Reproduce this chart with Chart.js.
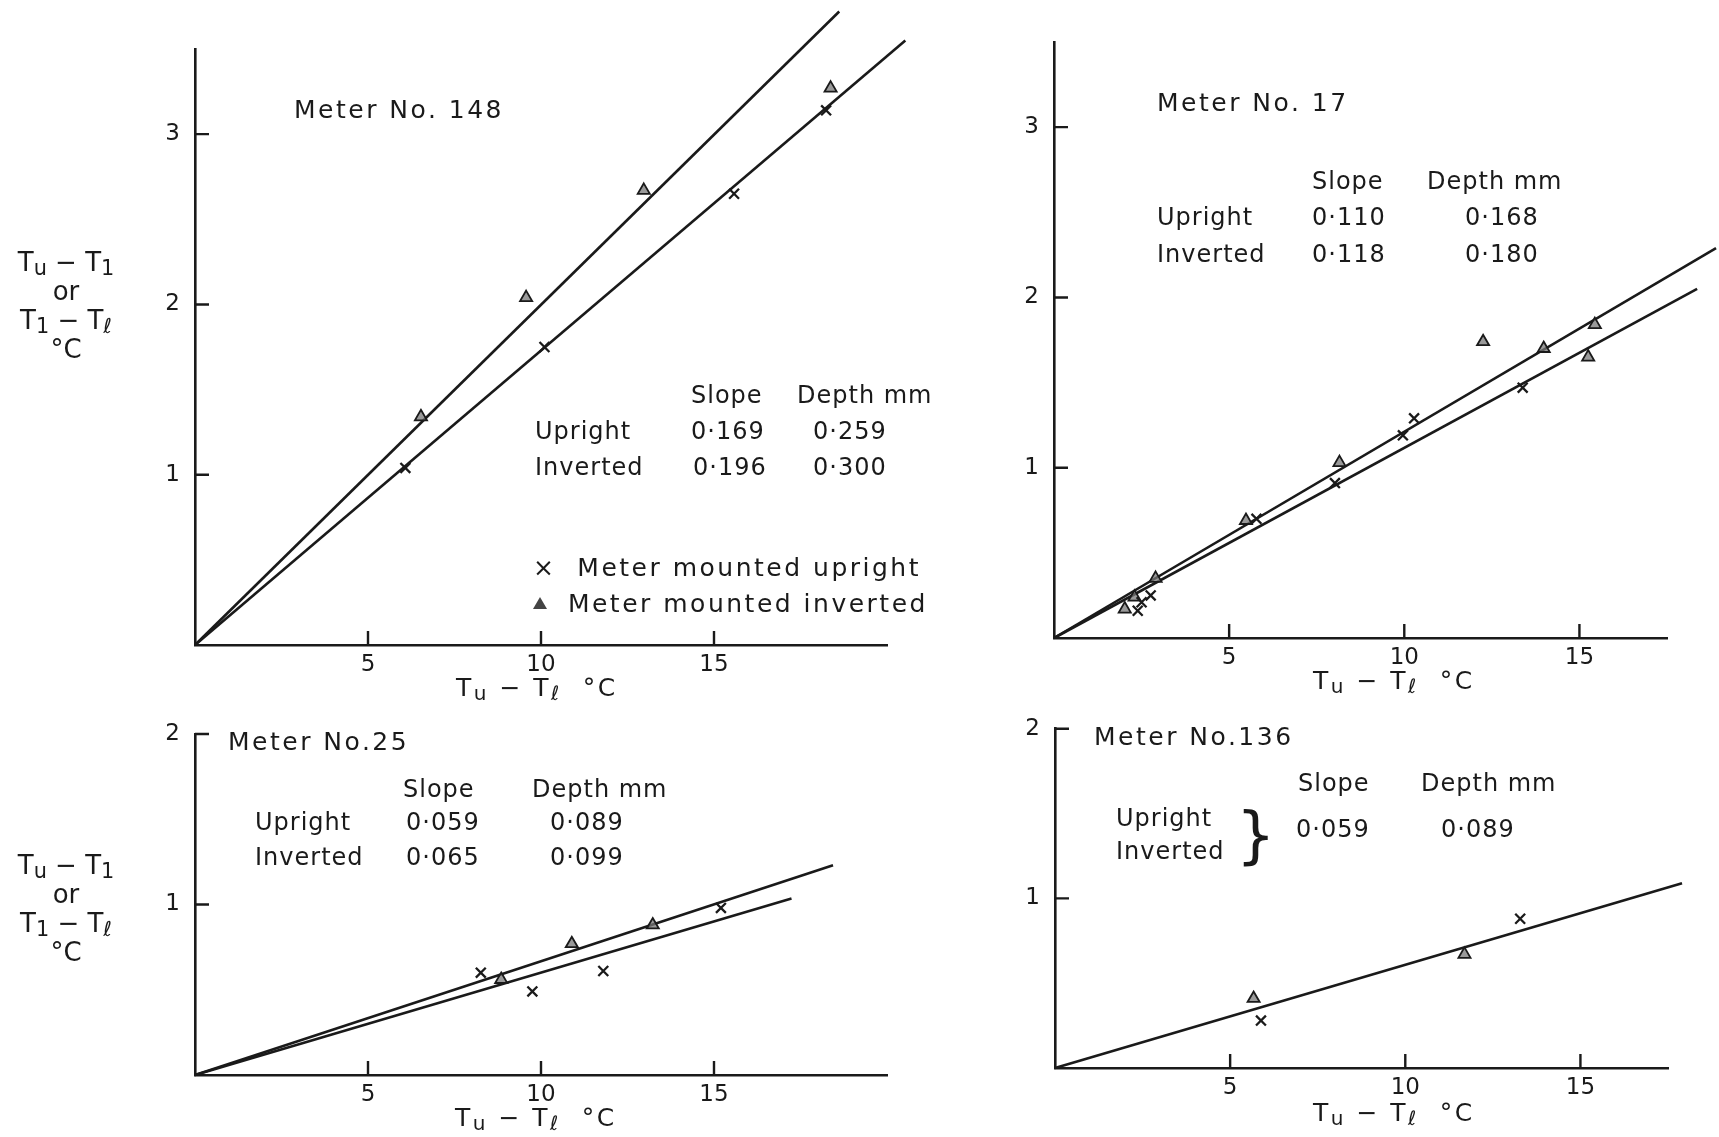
<!DOCTYPE html>
<html>
<head>
<meta charset="utf-8">
<script src="https://cdn.jsdelivr.net/npm/chart.js@4.4.1/dist/chart.umd.min.js"></script>
<style>
html, body { margin: 0; padding: 0; background: #fff; }
body { width: 1719px; height: 1137px; position: relative; overflow: hidden;
       font-family: "DejaVu Sans", sans-serif; color: #1a1a1a; }
canvas { position: absolute; }
.t { position: absolute; font-size: 24px; line-height: 26px; white-space: nowrap;
     transform: translateY(-50%); letter-spacing: 1px; z-index: 2; }
.big { font-size: 25px; letter-spacing: 2.5px; }
.yt { position: absolute; width: 130px; text-align: center; font-size: 26px; line-height: 29px; z-index: 2; }
sub { font-size: 0.8em; vertical-align: -0.2em; line-height: 0; }
.tri { display: inline-block; width: 0; height: 0; border-left: 7px solid transparent;
       border-right: 7px solid transparent; border-bottom: 12px solid #444; vertical-align: 3px; }
</style>
</head>
<body>

<canvas id="m148" width="835" height="720" style="left:95px;top:0px"></canvas>
<canvas id="m17" width="765" height="720" style="left:954px;top:0px"></canvas>
<canvas id="m25" width="835" height="437" style="left:95px;top:700px"></canvas>
<canvas id="m136" width="764" height="437" style="left:955px;top:700px"></canvas>

<!-- y titles -->
<div class="yt" style="left:1px;top:248px">T<sub>u</sub> − T<sub>1</sub><br>or<br>T<sub>1</sub> − T<sub>ℓ</sub><br>°C</div>
<div class="yt" style="left:1px;top:851px">T<sub>u</sub> − T<sub>1</sub><br>or<br>T<sub>1</sub> − T<sub>ℓ</sub><br>°C</div>

<!-- Meter No. 148 -->
<div class="t big" style="left:294px;top:110px">Meter No. 148</div>
<div class="t" style="left:691px;top:395px">Slope</div>
<div class="t" style="left:797px;top:395px">Depth mm</div>
<div class="t" style="left:535px;top:431px">Upright</div>
<div class="t" style="left:691px;top:431px">0·169</div>
<div class="t" style="left:813px;top:431px">0·259</div>
<div class="t" style="left:535px;top:467px">Inverted</div>
<div class="t" style="left:693px;top:467px">0·196</div>
<div class="t" style="left:813px;top:467px">0·300</div>
<div class="t big" style="left:533px;top:568px">×&nbsp; Meter mounted upright</div>
<div class="t big" style="left:533px;top:604px"><span class="tri"></span>&nbsp; Meter mounted inverted</div>
<div class="t big" style="left:456px;top:688px">T<sub>u</sub> − T<sub>ℓ</sub>&nbsp; °C</div>

<!-- Meter No. 17 -->
<div class="t big" style="left:1157px;top:103px">Meter No. 17</div>
<div class="t" style="left:1312px;top:181px">Slope</div>
<div class="t" style="left:1427px;top:181px">Depth mm</div>
<div class="t" style="left:1157px;top:217px">Upright</div>
<div class="t" style="left:1312px;top:217px">0·110</div>
<div class="t" style="left:1465px;top:217px">0·168</div>
<div class="t" style="left:1157px;top:254px">Inverted</div>
<div class="t" style="left:1312px;top:254px">0·118</div>
<div class="t" style="left:1465px;top:254px">0·180</div>
<div class="t big" style="left:1313px;top:681px">T<sub>u</sub> − T<sub>ℓ</sub>&nbsp; °C</div>

<!-- Meter No. 25 -->
<div class="t big" style="left:228px;top:742px">Meter No.25</div>
<div class="t" style="left:403px;top:789px">Slope</div>
<div class="t" style="left:532px;top:789px">Depth mm</div>
<div class="t" style="left:255px;top:822px">Upright</div>
<div class="t" style="left:406px;top:822px">0·059</div>
<div class="t" style="left:550px;top:822px">0·089</div>
<div class="t" style="left:255px;top:857px">Inverted</div>
<div class="t" style="left:406px;top:857px">0·065</div>
<div class="t" style="left:550px;top:857px">0·099</div>
<div class="t big" style="left:455px;top:1118px">T<sub>u</sub> − T<sub>ℓ</sub>&nbsp; °C</div>

<!-- Meter No. 136 -->
<div class="t big" style="left:1094px;top:737px">Meter No.136</div>
<div class="t" style="left:1298px;top:783px">Slope</div>
<div class="t" style="left:1421px;top:783px">Depth mm</div>
<div class="t" style="left:1116px;top:818px">Upright</div>
<div class="t" style="left:1116px;top:851px">Inverted</div>
<div class="t" style="left:1236px;top:835px;font-size:62px;line-height:64px;letter-spacing:0">}</div>
<div class="t" style="left:1296px;top:829px">0·059</div>
<div class="t" style="left:1441px;top:829px">0·089</div>
<div class="t big" style="left:1313px;top:1113px">T<sub>u</sub> − T<sub>ℓ</sub>&nbsp; °C</div>

<script>
var ink = "#1a1a1a",
    triFill = "rgba(120,120,120,0.75)";

// tick labels
var xTickValues = [ 5, 10, 15 ],
    yTickValuesTop = [ 1, 2, 3 ],
    yTickValuesBottom = [ 1, 2 ];

// Meter No. 148
var m148UprightX = [ 6.08, 10.1, 15.58, 18.24 ],
    m148UprightY = [ 1.04, 1.75, 2.65, 3.14 ],
    m148InvertedX = [ 6.53, 9.57, 12.97, 18.37 ],
    m148InvertedY = [ 1.34, 2.04, 2.67, 3.27 ],
    m148UprightLineX = [ 0, 20.53 ],
    m148UprightLineY = [ 0, 3.55 ],
    m148InvertedLineX = [ 0, 18.62 ],
    m148InvertedLineY = [ 0, 3.72 ];

// Meter No. 17
var m17UprightX = [ 2.39, 2.5, 2.76, 5.78, 8.02, 9.96, 10.28, 13.38 ],
    m17UprightY = [ 0.16, 0.21, 0.25, 0.70, 0.91, 1.19, 1.29, 1.47 ],
    m17InvertedX = [ 2.02, 2.3, 2.9, 5.48, 8.15, 12.25, 13.98, 15.25, 15.44 ],
    m17InvertedY = [ 0.17, 0.24, 0.35, 0.69, 1.03, 1.74, 1.70, 1.65, 1.84 ],
    m17UprightLineX = [ 0, 18.36 ],
    m17UprightLineY = [ 0, 2.05 ],
    m17InvertedLineX = [ 0, 18.9 ],
    m17InvertedLineY = [ 0, 2.29 ];

// Meter No. 25
var m25UprightX = [ 8.26, 9.75, 11.8, 15.2 ],
    m25UprightY = [ 0.60, 0.49, 0.61, 0.98 ],
    m25InvertedX = [ 8.85, 10.89, 13.23 ],
    m25InvertedY = [ 0.56, 0.77, 0.88 ],
    m25UprightLineX = [ 0, 17.24 ],
    m25UprightLineY = [ 0, 1.035 ],
    m25InvertedLineX = [ 0, 18.44 ],
    m25InvertedLineY = [ 0, 1.23 ];

// Meter No. 136 (one line for both)
var m136UprightX = [ 5.88, 13.28 ],
    m136UprightY = [ 0.28, 0.88 ],
    m136InvertedX = [ 5.67, 11.69 ],
    m136InvertedY = [ 0.41, 0.67 ],
    m136LineX = [ 0, 17.9 ],
    m136LineY = [ 0, 1.09 ];

function pts(xs, ys) {
    return xs.map(function (x, i) { return { x: x, y: ys[i] }; });
}

function lineSet(xs, ys) {
    return { data: pts(xs, ys), showLine: true, pointRadius: 0, borderColor: ink,
             borderWidth: 2.6, clip: false, order: 2 };
}
function crossSet(xs, ys) {
    return { data: pts(xs, ys), pointStyle: "crossRot", pointRadius: 7, borderColor: ink,
             borderWidth: 2.3, clip: false, order: 1 };
}
function triSet(xs, ys) {
    return { data: pts(xs, ys), pointStyle: "triangle", pointRadius: 7, borderColor: ink,
             backgroundColor: triFill, borderWidth: 1.8, clip: false, order: 1 };
}

// short tick marks pointing into the plot
var insideTicks = {
    id: "insideTicks",
    afterDraw: function (chart) {
        var ctx = chart.ctx, a = chart.chartArea, sx = chart.scales.x, sy = chart.scales.y;
        ctx.save();
        ctx.strokeStyle = ink;
        ctx.lineWidth = 2.4;
        ctx.beginPath();
        sx.ticks.forEach(function (t) {
            var px = sx.getPixelForValue(t.value);
            ctx.moveTo(px, a.bottom);
            ctx.lineTo(px, a.bottom - 14);
        });
        sy.ticks.forEach(function (t) {
            var py = sy.getPixelForValue(t.value);
            ctx.moveTo(a.left, py);
            ctx.lineTo(a.left + 14, py);
        });
        ctx.stroke();
        ctx.restore();
    }
};

function makePanel(id, p) {
    var yTicks = p.yTicks;
    return new Chart(document.getElementById(id).getContext("2d"), {
        type: "scatter",
        data: { datasets: p.datasets },
        options: {
            responsive: false,
            animation: false,
            layout: { padding: { top: p.padTop, right: p.padRight, left: 0, bottom: 0 } },
            plugins: { legend: { display: false }, tooltip: { enabled: false } },
            scales: {
                x: {
                    type: "linear", min: 0, max: p.xMax,
                    grid: { display: false, drawTicks: false },
                    border: { display: true, color: ink, width: 2.6 },
                    ticks: { color: ink, padding: 6, font: { family: "DejaVu Sans", size: 23 } },
                    afterBuildTicks: function (s) { s.ticks = xTickValues.map(function (v) { return { value: v }; }); },
                    afterFit: function (s) { s.height = p.xAxisH; }
                },
                y: {
                    type: "linear", min: 0, max: p.yMax,
                    grid: { display: false, drawTicks: false },
                    border: { display: true, color: ink, width: 2.6 },
                    ticks: { color: ink, padding: 15, font: { family: "DejaVu Sans", size: 23 } },
                    afterBuildTicks: function (s) { s.ticks = yTicks.map(function (v) { return { value: v }; }); },
                    afterFit: function (s) { s.width = 100; }
                }
            }
        },
        plugins: [ insideTicks ]
    });
}

makePanel("m148", {
    xMax: 20, yMax: 3.5, yTicks: yTickValuesTop, padTop: 49, padRight: 43, xAxisH: 75,
    datasets: [
        lineSet(m148UprightLineX, m148UprightLineY),
        lineSet(m148InvertedLineX, m148InvertedLineY),
        crossSet(m148UprightX, m148UprightY),
        triSet(m148InvertedX, m148InvertedY)
    ]
});

makePanel("m17", {
    xMax: 17.5, yMax: 3.5, yTicks: yTickValuesTop, padTop: 42, padRight: 52, xAxisH: 82,
    datasets: [
        lineSet(m17UprightLineX, m17UprightLineY),
        lineSet(m17InvertedLineX, m17InvertedLineY),
        crossSet(m17UprightX, m17UprightY),
        triSet(m17InvertedX, m17InvertedY)
    ]
});

makePanel("m25", {
    xMax: 20, yMax: 2, yTicks: yTickValuesBottom, padTop: 34, padRight: 43, xAxisH: 62,
    datasets: [
        lineSet(m25UprightLineX, m25UprightLineY),
        lineSet(m25InvertedLineX, m25InvertedLineY),
        crossSet(m25UprightX, m25UprightY),
        triSet(m25InvertedX, m25InvertedY)
    ]
});

makePanel("m136", {
    xMax: 17.5, yMax: 2, yTicks: yTickValuesBottom, padTop: 27, padRight: 51, xAxisH: 69,
    datasets: [
        lineSet(m136LineX, m136LineY),
        crossSet(m136UprightX, m136UprightY),
        triSet(m136InvertedX, m136InvertedY)
    ]
});
</script>
</body>
</html>
